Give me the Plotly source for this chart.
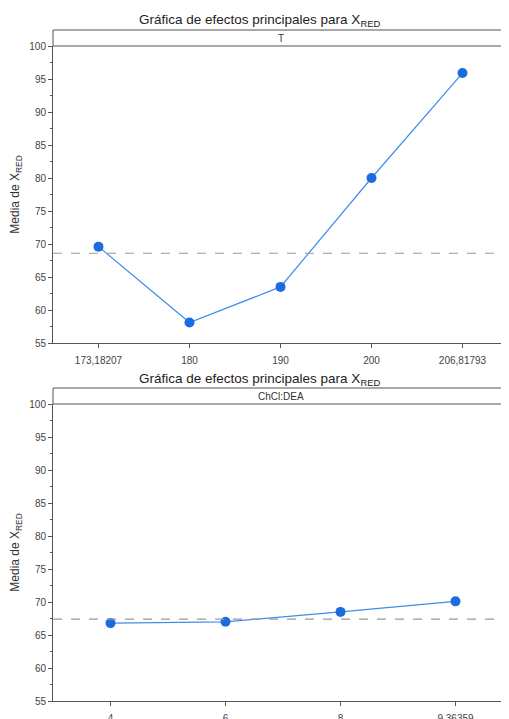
import plotly.graph_objects as go

# Data
t_labels = ["173,18207", "180", "190", "200", "206,81793"]
t_means = [69.6, 58.1, 63.5, 80.0, 95.9]
t_grand_mean = 68.6

c_labels = ["4", "6", "8", "9,36359"]
c_means = [66.8, 67.0, 68.5, 70.1]
c_grand_mean = 67.4

panel_names = ["T", "ChCl:DEA"]
title_text = "Gráfica de efectos principales para X<sub>RED</sub>"
ytitle = "Media de X<sub>RED</sub>"
yticks = [55, 60, 65, 70, 75, 80, 85, 90, 95, 100]

OFF = 8           # page body margin
FW, FH = 501, 711
L = 45
PW = FW - L
FONT = "Liberation Sans, Arial, sans-serif"
LINE_C = "#3f8cef"
MARK_C = "#1a6ce0"
AX_C = "#555555"


def py(p):
    return (FH - (p - OFF)) / FH


def px(p):
    return (p - OFF - L) / PW


fig = go.Figure()
fig.add_trace(go.Scatter(x=t_labels, y=t_means, mode="lines+markers",
                         line=dict(color=LINE_C, width=1.2),
                         marker=dict(color=MARK_C, size=10),
                         xaxis="x", yaxis="y", showlegend=False))
fig.add_trace(go.Scatter(x=c_labels, y=c_means, mode="lines+markers",
                         line=dict(color=LINE_C, width=1.2),
                         marker=dict(color=MARK_C, size=10),
                         xaxis="x2", yaxis="y2", showlegend=False))

common_y = dict(range=[55, 100], tickvals=yticks, ticks="outside", ticklen=4,
                tickcolor=AX_C, showline=True, linecolor=AX_C, linewidth=1,
                showgrid=False, zeroline=False, automargin=False,
                tickfont=dict(size=10, color="#444444", family=FONT),
                title=dict(text=ytitle, font=dict(size=12, color="#333333", family=FONT), standoff=8),
                minor=dict(dtick=2.5, tick0=55, ticks="outside", ticklen=2, tickcolor=AX_C, showgrid=False))
common_x = dict(type="category", ticks="outside", ticklen=4, tickcolor=AX_C, automargin=False,
                showline=True, linecolor=AX_C, linewidth=1, showgrid=False, zeroline=False,
                ticklabelstandoff=4,
                tickfont=dict(size=10, color="#444444", family=FONT))

fig.update_layout(
    width=FW, height=FH,
    margin=dict(l=L, r=0, t=0, b=0, pad=0),
    plot_bgcolor="white", paper_bgcolor="white",
    font=dict(family=FONT),
    xaxis=dict(common_x, domain=[0, px(508)], range=[-0.5, 4.5], anchor="y"),
    yaxis=dict(common_y, domain=[py(343), py(46)], anchor="x"),
    xaxis2=dict(common_x, domain=[0, 1], range=[-0.5, 3.465], anchor="y2"),
    yaxis2=dict(common_y, domain=[py(701), py(404)], anchor="x2"),
)

shapes = []
annotations = []
# right border of top plot
shapes.append(dict(type="line", xref="x domain", yref="paper", x0=1, x1=1,
                   y0=py(343), y1=py(30), line=dict(color=AX_C, width=1)))
# strip headers
for xr, top, bot in [("x domain", 30, 46), ("x2 domain", 388, 404)]:
    shapes.append(dict(type="line", xref=xr, yref="paper", x0=0, x1=1, y0=py(top), y1=py(top),
                       line=dict(color=AX_C, width=1)))
    shapes.append(dict(type="line", xref=xr, yref="paper", x0=0, x1=1, y0=py(bot), y1=py(bot),
                       line=dict(color=AX_C, width=1)))
    shapes.append(dict(type="line", xref=xr, yref="paper", x0=0, x1=0, y0=py(bot), y1=py(top),
                       line=dict(color=AX_C, width=1)))
# grand mean lines
shapes.append(dict(type="line", xref="x domain", yref="y", x0=0, x1=1, y0=t_grand_mean, y1=t_grand_mean,
                   line=dict(color="#999999", width=1.2, dash="dash")))
shapes.append(dict(type="line", xref="x2 domain", yref="y2", x0=0, x1=1, y0=c_grand_mean, y1=c_grand_mean,
                   line=dict(color="#999999", width=1.2, dash="dash")))

annotations.append(dict(text=panel_names[0], xref="x domain", yref="paper", x=0.5, y=py(38),
                        yanchor="middle", showarrow=False, font=dict(size=10, color="#333333", family=FONT)))
annotations.append(dict(text=panel_names[1], xref="x2 domain", yref="paper", x=0.5, y=py(396),
                        yanchor="middle", showarrow=False, font=dict(size=10, color="#333333", family=FONT)))
annotations.append(dict(text=title_text, xref="paper", yref="paper", x=px(259), y=py(21),
                        xanchor="center", yanchor="middle", showarrow=False,
                        font=dict(size=13.5, color="#222222", family=FONT)))
annotations.append(dict(text=title_text, xref="paper", yref="paper", x=px(259), y=py(379),
                        xanchor="center", yanchor="middle", showarrow=False,
                        font=dict(size=13.5, color="#222222", family=FONT)))

fig.update_layout(shapes=shapes, annotations=annotations)
fig.write_html("out.html")
